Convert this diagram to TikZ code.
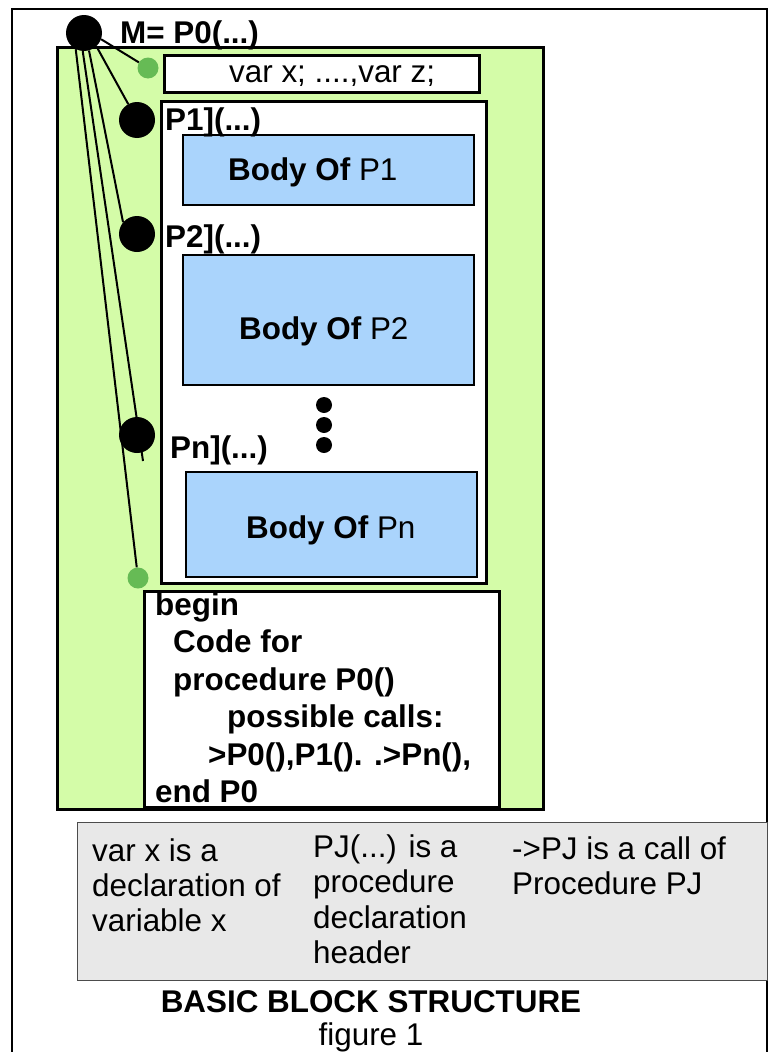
\documentclass[tikz,border=0pt]{standalone}
\usepackage{fontspec}
\setmainfont{Liberation Sans}
\definecolor{blockgreen}{HTML}{D4FCA8}
\definecolor{bodyblue}{HTML}{AAD4FC}
\definecolor{dotgreen}{HTML}{66BB55}
\definecolor{notegray}{HTML}{E8E8E8}
\begin{document}
\begin{tikzpicture}[x=1pt,y=1pt,
  txt/.style={inner sep=0pt, anchor=base west, font=\fontsize{31.4}{37.5}\selectfont},
  btxt/.style={txt, font=\fontsize{31.4}{37.5}\selectfont\bfseries},
  frame/.style={draw=black, line width=2.5pt, inner sep=0pt, anchor=north west},
  bodybox/.style={frame, fill=bodyblue, line width=2pt},
  bigdot/.style={circle, fill=black, minimum size=36pt, inner sep=0pt},
  smalldot/.style={circle, fill=dotgreen, minimum size=21pt, inner sep=0pt},
  tinydot/.style={circle, fill=black, minimum size=16pt, inner sep=0pt},
  link/.style={draw=black, line width=2pt}
]
\useasboundingbox (0,0) rectangle (772,-1052);
\clip (0,0) rectangle (772,-1052);

% outer page frame, open at the bottom
\draw[line width=2.5pt] (12,-1070) -- (12,-9) -- (767,-9) -- (767,-1070);

% block of procedure P0
\node[frame, fill=blockgreen, minimum width=486pt, minimum height=762pt] (block) at (56,-46) {};
\node[frame, fill=white, minimum width=315pt, minimum height=37pt] (vars) at (163,-54) {};
\node[txt] (varstxt) at (229,-82) {var x; ....,var z;};

% nested procedure declarations
\node[frame, fill=white, minimum width=325pt, minimum height=482pt] (procs) at (160,-100) {};
\node[bodybox, minimum width=291pt, minimum height=70pt] (body1) at (182,-134) {};
\node[txt] (body1txt) at (228,-180) {\bfseries Body Of \mdseries P1};
\node[bodybox, minimum width=291pt, minimum height=130pt] (body2) at (182,-254) {};
\node[txt] (body2txt) at (239,-339) {\bfseries Body Of \mdseries P2};
\node[bodybox, minimum width=291pt, minimum height=105pt] (bodyn) at (185,-471) {};
\node[txt] (bodyntxt) at (246,-538) {\bfseries Body Of \mdseries Pn};

\node[tinydot] (d1) at (324,-405) {};
\node[tinydot] (d2) at (324,-425) {};
\node[tinydot] (d3) at (324,-445) {};

% code part of P0
\node[frame, fill=white, minimum width=355pt, minimum height=216pt] (code) at (143,-590) {};
\node[btxt] (c1) at (155,-615) {begin};
\node[btxt] (c2) at (173,-652.5) {Code for};
\node[btxt] (c3) at (173,-690) {procedure P0()};
\node[btxt] (c4) at (227,-727.5) {possible calls:};
\node[btxt] (c5) at (208,-765) {>P0(),P1(). .>Pn(),};
\node[btxt] (c6) at (155,-802.5) {end P0};

% markers and their labels
\node[smalldot] (gv) at (148,-68) {};
\node[smalldot] (gc) at (138,-578) {};
\coordinate (ntail) at (143,-461);
\node[bigdot] (m) at (84,-33) {};
\node[bigdot] (p1) at (137,-120) {};
\node[bigdot] (p2) at (137,-234) {};

\draw[link] (m.243) -- (gc);
\draw[link] (m.266) -- (ntail);
\draw[link] (m.286) -- (p2.140);
\draw[link] (m.313) -- (p1);
\draw[link] (m.340) -- (gv);
\node[bigdot] (pn) at (137,-435) {};

\node[btxt] (mlab) at (120,-43) {M= P0(...)};
\node[btxt] (p1lab) at (165,-130) {P1](...)};
\node[btxt] (p2lab) at (165,-247) {P2](...)};
\node[btxt] (pnlab) at (170,-458) {Pn](...)};

% legend
\node[draw=black!70, line width=1.2pt, fill=notegray, inner sep=0pt, anchor=north west,
      minimum width=690pt, minimum height=158pt] (legend) at (77,-822) {};
\node[txt] (l11) at (92,-861) {var x is a};
\node[txt] (l12) at (92,-896) {declaration of};
\node[txt] (l13) at (92,-931) {variable x};
\node[txt] (l21) at (313,-857) {PJ(...) is a};
\node[txt] (l22) at (313,-892) {procedure};
\node[txt] (l23) at (313,-928) {declaration};
\node[txt] (l24) at (313,-963) {header};
\node[txt] (l31) at (512,-859) {->PJ is a call of};
\node[txt] (l32) at (512,-894) {Procedure PJ};

% caption
\node[btxt, anchor=base] (title) at (371,-1012) {BASIC BLOCK STRUCTURE};
\node[txt, anchor=base] (fig) at (371,-1045) {figure 1};
\end{tikzpicture}
\end{document}
